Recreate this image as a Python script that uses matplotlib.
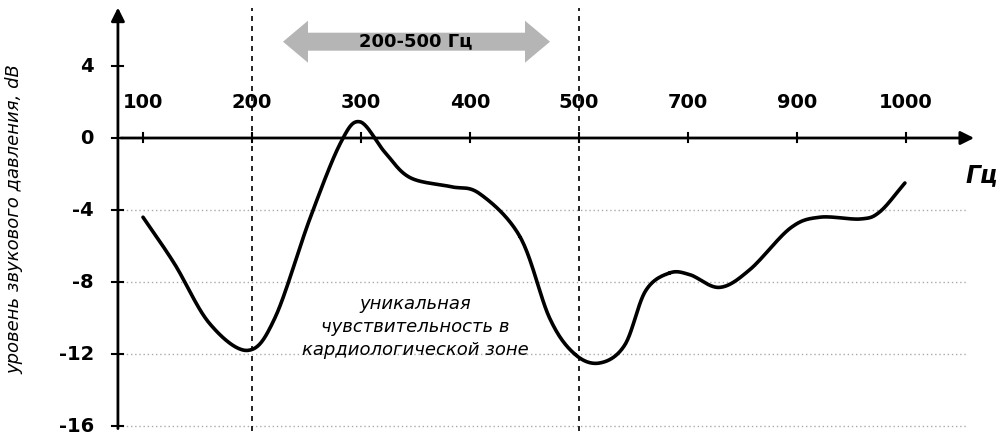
import numpy as np
import matplotlib
matplotlib.use('Agg')
import matplotlib.pyplot as plt
import matplotlib.patches as mpatches

# ── data ─────────────────────────────────────────────────────────────
tick_labels = ['100', '200', '300', '400', '500', '700', '900', '1000']
curve_x = [0, 0.29, 0.61, 0.96, 1.21, 1.53, 1.81, 1.99, 2.22, 2.45, 2.82, 3.09,
           3.46, 3.73, 3.96, 4.19, 4.42, 4.61, 4.83, 5.02, 5.29, 5.57, 5.94,
           6.21, 6.58, 6.76, 6.99]
curve_y = [-4.4, -7.0, -10.3, -11.8, -10.0, -4.5, -0.3, 0.9, -0.8, -2.2, -2.7, -3.1,
           -5.5, -10.0, -12.0, -12.5, -11.5, -8.5, -7.5, -7.6, -8.3, -7.3, -5.0,
           -4.4, -4.5, -4.1, -2.5]
y_ticks = [4, 0, -4, -8, -12, -16]
grid_y = [-4, -8, -12, -16]
band = (1, 4)   # 200 and 500 Hz positions


def smooth(x, y):
    # Catmull-Rom through the read points
    x = np.asarray(x, float); y = np.asarray(y, float)
    P = np.column_stack([x, y])
    P = np.vstack([P[0] * 2 - P[1], P, P[-1] * 2 - P[-2]])
    out = []
    for i in range(1, len(P) - 2):
        p0, p1, p2, p3 = P[i - 1], P[i], P[i + 1], P[i + 2]
        t = np.linspace(0, 1, 25)[:, None]
        out.append(0.5 * ((2 * p1) + (-p0 + p2) * t + (2 * p0 - 5 * p1 + 4 * p2 - p3) * t ** 2
                          + (-p0 + 3 * p1 - 3 * p2 + p3) * t ** 3))
    out = np.vstack(out)
    return out[:, 0], out[:, 1]


fig = plt.figure(figsize=(10, 4.4), dpi=100)
ax = fig.add_axes([0, 0, 1, 1])
ax.set_xlim(-143 / 109, 857 / 109)
ax.set_ylim(-302 / 18, 138 / 18)
ax.axis('off')

y0 = -0.23
# axes with arrows
ax.annotate('', xy=(7.65, 0), xytext=(y0, 0),
            arrowprops=dict(arrowstyle='-|>', color='black', lw=2, mutation_scale=20))
ax.annotate('', xy=(y0, 7.4), xytext=(y0, -16.3),
            arrowprops=dict(arrowstyle='-|>', color='black', lw=2, mutation_scale=20))

for g in grid_y:
    ax.plot([y0, 7.55], [g, g], color='#aaaaaa', lw=1, ls=(0, (1, 2)))
for b in band:
    ax.plot([b, b], [-16.3, 7.2], color='black', lw=1.2, ls=(0, (3, 3)))

for i, lab in enumerate(tick_labels):
    ax.plot([i, i], [-0.25, 0.25], color='black', lw=1.5)
    ax.text(i, 1.95, lab, ha='center', va='center', fontsize=14, fontweight='bold')
for v in y_ticks:
    ax.plot([y0 - 0.05, y0 + 0.05], [v, v], color='black', lw=1.5)
    ax.text(y0 - 0.22, v, str(v), ha='right', va='center', fontsize=14, fontweight='bold')

ax.text(7.84, -2.05, 'Гц', ha='right', va='center', fontsize=17,
        fontweight='bold', style='italic')
ax.text(-1.18, -4.5, 'уровень звукового давления, dB', rotation=90, ha='center',
        va='center', fontsize=13, style='italic')

# gray block double arrow (200-500 Hz band)
xl, xr, yc = (283 - 143) / 109, (550 - 143) / 109, 5.35
hl, bw, hw = 25 / 109, 9 / 18, 21 / 18
ax.add_patch(mpatches.Polygon([
    (xl, yc), (xl + hl, yc + hw), (xl + hl, yc + bw), (xr - hl, yc + bw),
    (xr - hl, yc + hw), (xr, yc), (xr - hl, yc - hw), (xr - hl, yc - bw),
    (xl + hl, yc - bw), (xl + hl, yc - hw)], closed=True,
    facecolor='#b5b5b5', edgecolor='none'))
ax.text(2.5, yc, '200-500 Гц', ha='center', va='center', fontsize=13, fontweight='bold')

sx, sy = smooth(curve_x, curve_y)
ax.plot(sx, sy, color='black', lw=2.6, solid_capstyle='round')

ax.text(2.5, -10.5, 'уникальная\nчувствительность в\nкардиологической зоне',
        ha='center', va='center', fontsize=13, style='italic', linespacing=1.35)

fig.savefig('out.png', dpi=100, facecolor='white')
